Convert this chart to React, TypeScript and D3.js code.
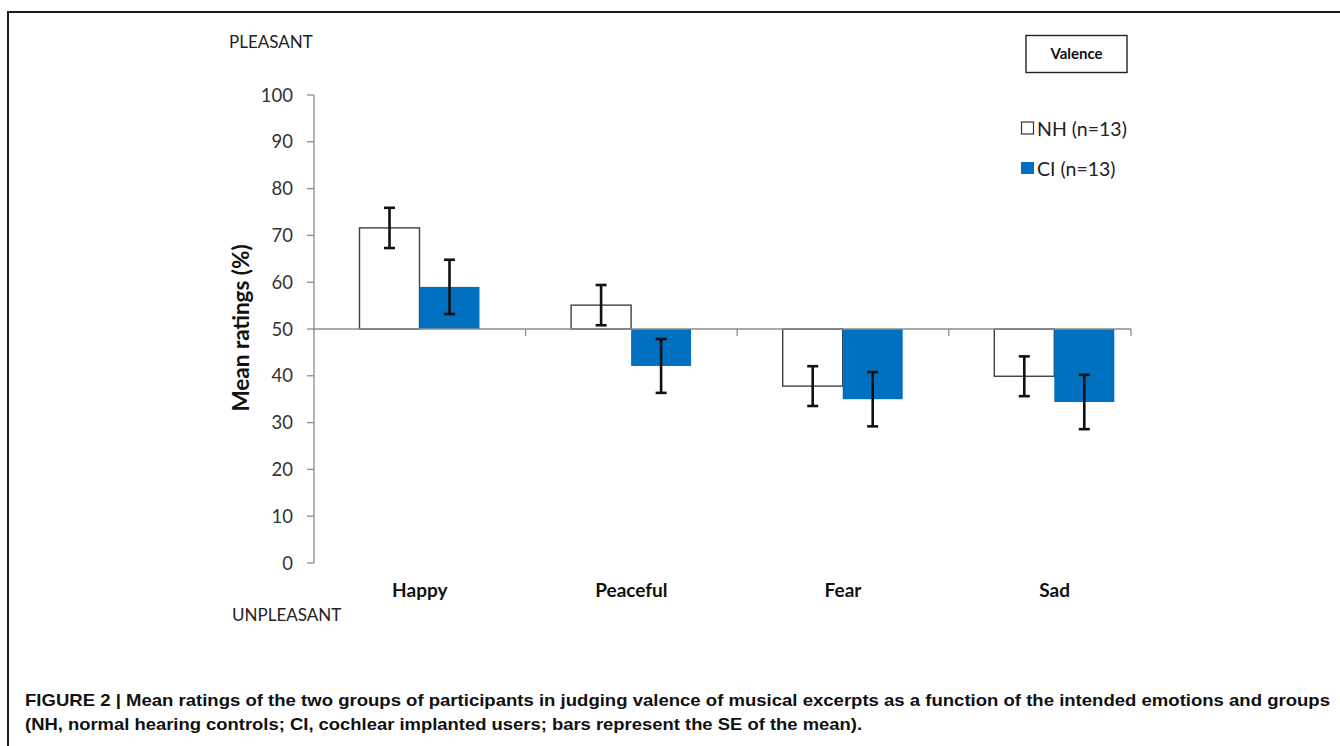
import React from "react";
import * as d3 from "d3";

const categories = ["Happy", "Peaceful", "Fear", "Sad"];
const groups = ["NH (n=13)", "CI (n=13)"];
const nhMeans = [71.6, 55.1, 37.8, 39.9];
const nhSE = [4.3, 4.3, 4.25, 4.25];
const ciMeans = [59.0, 42.1, 35.0, 34.4];
const ciSE = [5.8, 5.75, 5.8, 5.8];
const yTicks = [0, 10, 20, 30, 40, 50, 60, 70, 80, 90, 100];
const baseline = 50;

const captionLine1 =
  "FIGURE 2 | Mean ratings of the two groups of participants in judging valence of musical excerpts as a function of the intended emotions and groups";
const captionLine2 =
  "(NH, normal hearing controls; CI, cochlear implanted users; bars represent the SE of the mean).";

const W = 1340;
const H = 746;
const axisX = 314;
const axisEnd = 1131;
const font = "Lato, 'Open Sans', sans-serif";

export default function App() {
  const y = d3.scaleLinear().domain([0, 100]).range([563, 95]);
  const x = d3.scaleBand<string>().domain(categories).range([axisX, axisX + 211.6 * 4]).paddingInner(0).paddingOuter(0);
  const step = x.step();
  const sub = d3.scaleBand<string>().domain(["NH", "CI"]).range([45.5, 165.5]).padding(0);
  const bw = sub.bandwidth();
  const y50 = y(baseline);

  const series = [
    { key: "NH", means: nhMeans, se: nhSE, fill: "#ffffff", stroke: "#404040" },
    { key: "CI", means: ciMeans, se: ciSE, fill: "#0070C0", stroke: "none" },
  ];

  const xTickPos = categories.slice(0, 3).map((c) => (x(c) as number) + step);
  xTickPos.push(axisEnd);

  return (
    <svg width={W} height={H} style={{ position: "absolute", left: 0, top: 0 }} fontFamily={font}>
      <rect x={0} y={0} width={W} height={H} fill="#fff" />
      {/* frame */}
      <path d={`M8,${H} L8,12 L${W},12`} fill="none" stroke="#1a1a1a" strokeWidth={2} />

      <text x={229} y={48} fontSize={17} fill="#222">PLEASANT</text>
      <text x={232} y={621} fontSize={17} fill="#222">UNPLEASANT</text>

      {/* y axis */}
      <line x1={axisX} x2={axisX} y1={y(0)} y2={y(100)} stroke="#8c8c8c" strokeWidth={1.3} />
      {yTicks.map((t) => (
        <g key={t}>
          <line x1={axisX - 7} x2={axisX} y1={y(t)} y2={y(t)} stroke="#8c8c8c" strokeWidth={1.3} />
          <text x={293} y={y(t) + 6.5} fontSize={18.5} fill="#333" textAnchor="end">{t}</text>
        </g>
      ))}
      <text
        transform={`translate(249,${(y(0) + y(100)) / 2 - 1}) rotate(-90)`}
        fontSize={22.5}
        fontWeight={700}
        fill="#111"
        textAnchor="middle"
      >
        Mean ratings (%)
      </text>

      {/* bars */}
      {categories.map((c, i) =>
        series.map((s) => {
          const x0 = (x(c) as number) + (sub(s.key) as number);
          const v = s.means[i];
          const top = Math.min(y(v), y50);
          const h = Math.abs(y(v) - y50);
          return (
            <rect key={c + s.key} x={x0} y={top} width={bw} height={h} fill={s.fill} stroke={s.stroke} strokeWidth={1.4} />
          );
        })
      )}

      {/* x axis at 50 */}
      <line x1={axisX} x2={axisEnd} y1={y50} y2={y50} stroke="#8c8c8c" strokeWidth={1.4} />
      {xTickPos.map((p, i) => (
        <line key={i} x1={p} x2={p} y1={y50} y2={y50 + 7} stroke="#8c8c8c" strokeWidth={1.3} />
      ))}

      {/* error bars */}
      {categories.map((c, i) =>
        series.map((s) => {
          const cx = (x(c) as number) + (sub(s.key) as number) + bw / 2;
          const hi = y(s.means[i] + s.se[i]);
          const lo = y(s.means[i] - s.se[i]);
          return (
            <g key={"e" + c + s.key} stroke="#111" strokeWidth={2.6}>
              <line x1={cx} x2={cx} y1={hi} y2={lo} />
              <line x1={cx - 5.5} x2={cx + 5.5} y1={hi} y2={hi} />
              <line x1={cx - 5.5} x2={cx + 5.5} y1={lo} y2={lo} />
            </g>
          );
        })
      )}

      {/* category labels */}
      {categories.map((c) => (
        <text key={c} x={(x(c) as number) + step / 2} y={597} fontSize={19} fontWeight={700} fill="#111" textAnchor="middle">
          {c}
        </text>
      ))}

      {/* Valence box */}
      <rect x={1026} y={35.5} width={101} height={37} fill="#fff" stroke="#222" strokeWidth={1.4} />
      <text x={1076.5} y={58.5} fontSize={15} fontWeight={700} fill="#111" textAnchor="middle">Valence</text>

      {/* legend */}
      <rect x={1021.5} y={122} width={12} height={12} fill="#fff" stroke="#333" strokeWidth={1.2} />
      <text x={1037} y={135.5} fontSize={19.5} fill="#222">{groups[0]}</text>
      <rect x={1021} y={162} width={13} height={12} fill="#0070C0" />
      <text x={1037} y={175.5} fontSize={19.5} fill="#222">{groups[1]}</text>

      {/* caption */}
      <text x={25} y={706} fontSize={17} fontWeight={700} fill="#111" fontFamily="'Liberation Sans', Arial, sans-serif" textLength={1305} lengthAdjust="spacingAndGlyphs">
        {captionLine1}
      </text>
      <text x={25} y={730} fontSize={17} fontWeight={700} fill="#111" fontFamily="'Liberation Sans', Arial, sans-serif" textLength={837} lengthAdjust="spacingAndGlyphs">
        {captionLine2}
      </text>
    </svg>
  );
}
